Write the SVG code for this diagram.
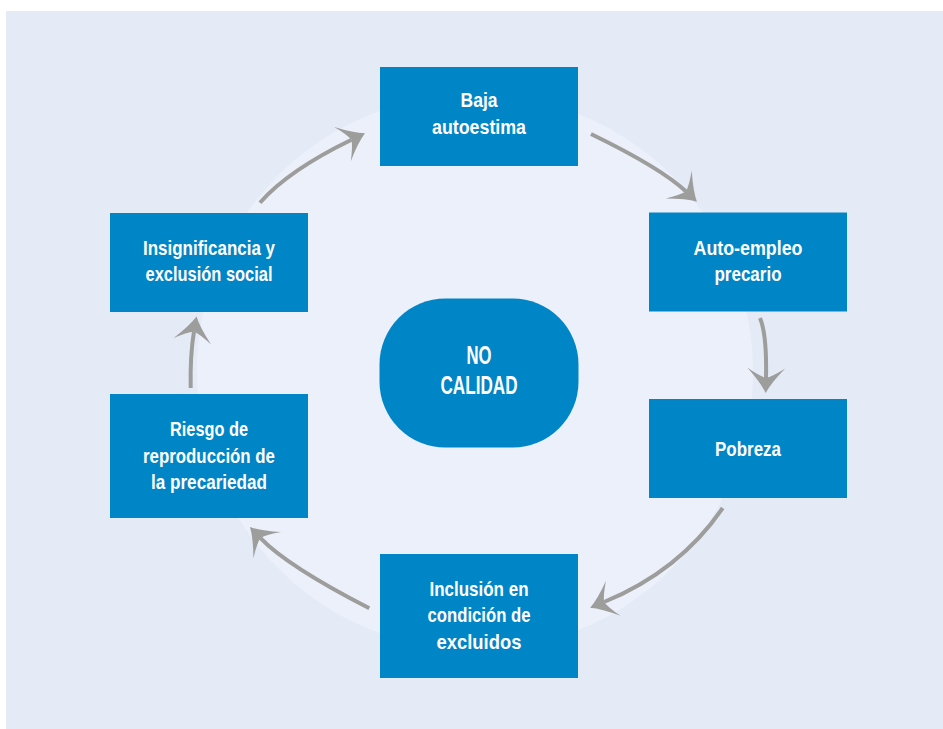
<svg xmlns="http://www.w3.org/2000/svg" width="943" height="729" viewBox="0 0 943 729">
  <defs>
    <marker id="ah" markerUnits="userSpaceOnUse" markerWidth="40" markerHeight="40" refX="0" refY="0" orient="auto" overflow="visible" viewBox="-12 -20 28 40">
      <path d="M15,0 Q5,-5 -10,-19 Q-2,-7 0,0 Q-2,7 -10,19 Q5,5 15,0 Z" fill="#9d9d9c"/>
    </marker>
  </defs>
  <style>
    .box { fill: #0085c7; }
    .t { fill: #ffffff; font-family: "Liberation Sans", Arial, sans-serif; font-weight: bold; font-size: 21px; text-anchor: middle; }
    .tc { font-size: 26.5px; }
    .arr { fill: none; stroke: #9d9d9c; stroke-width: 4; marker-end: url(#ah); }
  </style>
  <rect x="0" y="0" width="943" height="729" fill="#ffffff"/>
  <rect x="6" y="11" width="937" height="718" fill="#e4ebf7"/>
  <circle cx="475" cy="372" r="278" fill="#ecf0fb"/>

  <g id="connectors">
    <path class="arr" d="M591,134 Q661,168 686,191.5"/>
    <path class="arr" d="M760,318 Q767,335 766,378"/>
    <path class="arr" d="M722.7,508 Q679.5,571 604,602"/>
    <path class="arr" d="M369.3,608.3 Q287,566 260.3,537.9"/>
    <path class="arr" d="M190.7,388 Q190,355 194,331.4"/>
    <path class="arr" d="M260,202.7 Q288.7,170.2 351.5,139.8"/>
  </g>

  <g id="node-baja">
    <rect class="box" x="380" y="67" width="198" height="99"/>
    <text class="t" x="479" y="106.7" textLength="37" lengthAdjust="spacingAndGlyphs">Baja</text>
    <text class="t" x="479" y="134" textLength="94" lengthAdjust="spacingAndGlyphs">autoestima</text>
  </g>
  <g id="node-autoempleo">
    <rect class="box" x="649" y="212.5" width="198" height="99"/>
    <text class="t" x="748" y="255" textLength="109" lengthAdjust="spacingAndGlyphs">Auto-empleo</text>
    <text class="t" x="748" y="281" textLength="67" lengthAdjust="spacingAndGlyphs">precario</text>
  </g>
  <g id="node-pobreza">
    <rect class="box" x="649" y="399" width="198" height="99"/>
    <text class="t" x="748" y="455.7" textLength="66" lengthAdjust="spacingAndGlyphs">Pobreza</text>
  </g>
  <g id="node-inclusion">
    <rect class="box" x="380" y="554" width="198" height="124"/>
    <text class="t" x="479" y="595.7" textLength="99" lengthAdjust="spacingAndGlyphs">Inclusión en</text>
    <text class="t" x="479" y="621.7" textLength="103" lengthAdjust="spacingAndGlyphs">condición de</text>
    <text class="t" x="479" y="649" textLength="85" lengthAdjust="spacingAndGlyphs">excluidos</text>
  </g>
  <g id="node-riesgo">
    <rect class="box" x="110" y="394" width="198" height="124"/>
    <text class="t" x="209" y="435.7" textLength="78" lengthAdjust="spacingAndGlyphs">Riesgo de</text>
    <text class="t" x="209" y="462.7" textLength="132" lengthAdjust="spacingAndGlyphs">reproducción de</text>
    <text class="t" x="209" y="489" textLength="116" lengthAdjust="spacingAndGlyphs">la precariedad</text>
  </g>
  <g id="node-insignificancia">
    <rect class="box" x="110" y="213" width="198" height="99"/>
    <text class="t" x="209" y="255" textLength="132" lengthAdjust="spacingAndGlyphs">Insignificancia y</text>
    <text class="t" x="209" y="281" textLength="127" lengthAdjust="spacingAndGlyphs">exclusión social</text>
  </g>
  <g id="node-nocalidad">
    <rect class="box" x="379.5" y="298.5" width="199" height="149" rx="66" ry="66"/>
    <text class="t tc" x="479" y="364" textLength="25" lengthAdjust="spacingAndGlyphs">NO</text>
    <text class="t tc" x="479" y="394" textLength="77" lengthAdjust="spacingAndGlyphs">CALIDAD</text>
  </g>
</svg>
